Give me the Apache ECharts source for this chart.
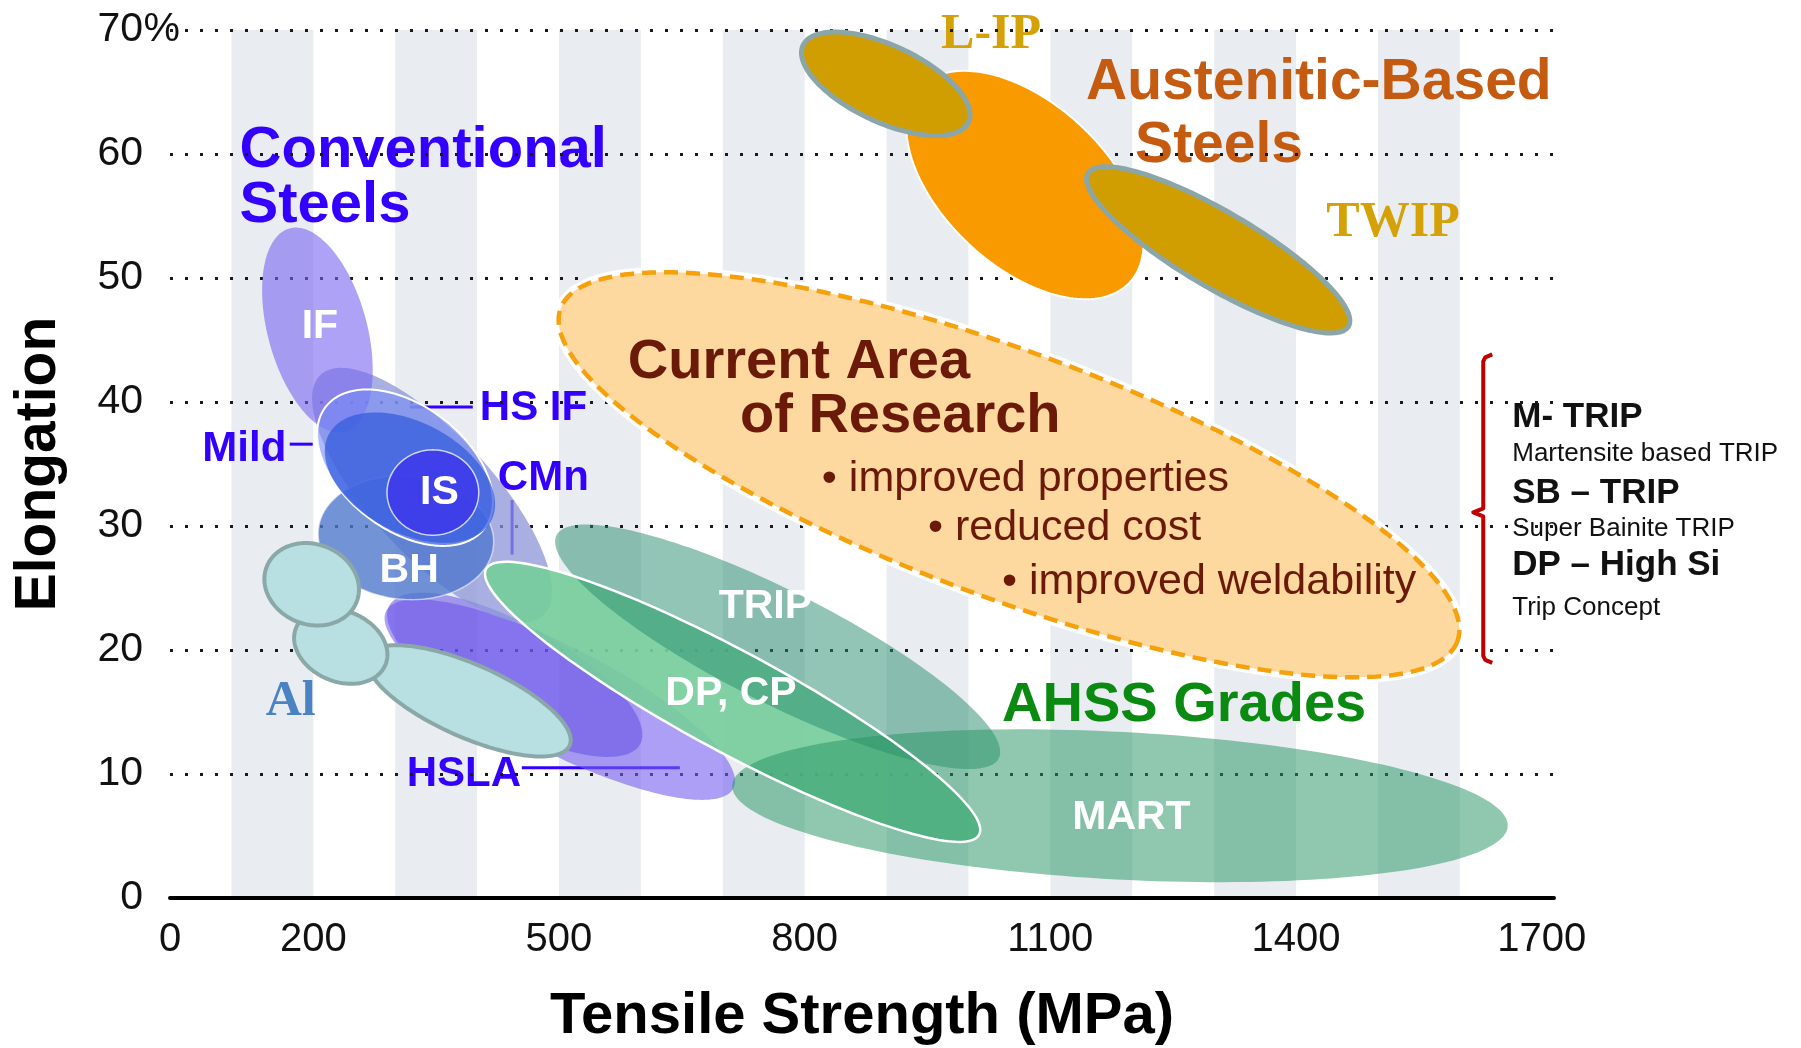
<!DOCTYPE html>
<html lang="en">
<head>
<meta charset="utf-8">
<title>Elongation vs Tensile Strength of Steel Grades</title>
<script src="https://cdn.jsdelivr.net/npm/echarts@6/dist/echarts.min.js"></script>
<style>
  html, body { margin: 0; padding: 0; background: #ffffff; }
  #chart { width: 1801px; height: 1048px; }
</style>
</head>
<body>
<div id="chart"></div>
<script>
// ---------- Axes ----------
// The strength axis is broken near the origin: its first tick is labelled 0.
const strengthTicks = [25, 200, 500, 800, 1100, 1400, 1700];
const strengthRange = [25, 1715];
const elongationRange = [0, 70];
// Shaded columns along the strength axis, [from, to] in MPa
const strengthBands = [[100, 200], [300, 400], [500, 600], [700, 800], [900, 1000], [1100, 1200], [1300, 1400], [1500, 1600]];

// ---------- Property regions ----------
// [grade, centre MPa, centre %, end of long axis MPa, end of long axis %, short/long axis ratio]
const conventionalRegions = [
  ['HSLA',      501,   16.0,  713,   8.85, 0.27],
  ['HSLA core', 446,   18.0,  599,  12.4,  0.35],
  ['CMn',       345,   32.5,  481,  22.8,  0.37],
  ['IF',        205,   45.8,  239,  37.6,  0.47],
  ['BH',        313,   29.05, 420,  28.4,  0.70],
  ['HS IF',     312,   34.7,  409,  29.8,  0.62],
  ['Mild',      318,   33.9,  417,  30.4,  0.60],
  ['IS',        346,   32.7,  402,  32.7,  0.93]
];
const aluminiumRegions = [
  ['Al 3', 390,   15.9, 513, 12.3, 0.33],
  ['Al 2', 233.5, 20.3, 288, 18.8, 0.73],
  ['Al 1', 198,   25.3, 253, 23.9, 0.83]
];
const austeniticRegions = [
  ['Austenitic', 1069, 57.5,  1197, 49.65, 0.57],
  ['L-IP',        899, 65.66, 1000, 62.56, 0.42],
  ['TWIP',       1305, 52.27, 1464, 46.1,  0.25]
];
const researchRegion = [
  ['Research', 1049.5, 34.13, 1597, 20.7, 0.257]
];
const ahssRegions = [
  ['DP, CP',  712, 15.82, 1013,  5.1,  0.179],
  ['TRIP',    767, 20.26, 1037, 11.27, 0.227],
  ['MART',   1185,  7.44, 1658.5, 5.8, 0.19]
];

// ---------- Texts: [text, MPa, %] ----------
const conventionalTitle = [['Conventional', 110, 60.26], ['Steels', 110, 55.8]];
const austeniticTitle = [['Austenitic-Based', 1143.6, 65.7], ['Steels', 1203.5, 60.65]];
const ahssTitle = [['AHSS Grades', 1041, 15.5]];
const austeniticGrades = [['L-IP', 966.5, 69.6], ['TWIP', 1437, 54.4]];
const conventionalCallouts = [['Mild', 64.5, 36.2], ['HS IF', 403.3, 39.5], ['CMn', 425.3, 33.8], ['HSLA', 314, 10.0]];
// leader lines [from MPa, from %, to MPa, to %]
const calloutLines = [[171.2, 36.6, 199.3, 36.6], [317.8, 39.6, 394.7, 39.6], [442.7, 32.1, 442.7, 27.7], [454.6, 10.5, 647.6, 10.5]];
const regionLabels = [['IF', 208, 46.1], ['IS', 354, 32.7], ['BH', 317, 26.4], ['TRIP', 752, 23.5], ['DP, CP', 710, 16.5], ['MART', 1199, 6.5]];
const aluminiumLabel = [['Al', 172.4, 15.8]];
const researchTitle = [['Current Area', 584, 43.2], ['of Research', 721, 38.8]];
const researchPoints = [['\u2022 improved properties', 821, 33.8], ['\u2022 reduced cost', 950.5, 29.8], ['\u2022 improved weldability', 1041, 25.5]];
const tripConcepts = [['M- TRIP', 1664, 38.75], ['SB \u2013 TRIP', 1664, 32.6], ['DP \u2013 High Si', 1664, 26.8]];
const tripConceptNotes = [['Martensite based TRIP', 1664, 35.8], ['Super Bainite TRIP', 1664, 29.8], ['Trip Concept', 1664, 23.4]];
// brace grouping the TRIP concepts: [MPa, low %, high %, tip %]
const tripBrace = [[1628.6, 19.2, 43.6, 31.1]];

// ---------- Styling ----------
const FONT = '"Liberation Sans", Arial, Helvetica, sans-serif';
const SERIF = '"Liberation Serif", "Times New Roman", serif';
const BLUE = '#3300ff';

const conventionalStyle = {
  'HSLA':      { fill: 'rgba(120,95,240,0.6)' },
  'HSLA core': { fill: 'rgba(100,80,230,0.55)' },
  'CMn':       { fill: 'rgba(140,150,215,0.75)' },
  'IF':        { fill: 'rgba(120,100,240,0.6)' },
  'BH':        { fill: 'rgba(80,120,205,0.8)', stroke: 'rgba(255,255,255,0.55)', lineWidth: 1.5 },
  'HS IF':     { fill: 'rgba(120,140,245,0.6)', stroke: '#ffffff', lineWidth: 2 },
  'Mild':      { fill: 'rgba(50,90,220,0.72)' },
  'IS':        { fill: 'rgba(60,50,235,0.75)', stroke: 'rgba(255,255,255,0.75)', lineWidth: 1.5 }
};
const aluminiumStyle = {
  'Al 1': { fill: '#b8dfe2', stroke: '#8ba8a8', lineWidth: 4 },
  'Al 2': { fill: '#b8dfe2', stroke: '#8ba8a8', lineWidth: 4 },
  'Al 3': { fill: '#b8dfe2', stroke: '#8ba8a8', lineWidth: 4 }
};
const austeniticStyle = {
  'Austenitic': { fill: '#f99b00', stroke: '#ffffff', lineWidth: 2 },
  'L-IP':       { fill: '#d19e02', stroke: '#8aa6a8', lineWidth: 5 },
  'TWIP':       { fill: '#d19e02', stroke: '#8aa6a8', lineWidth: 5 }
};
const researchStyle = {
  'Research': { fill: '#fdd89f', halo: '#ffffff', haloWidth: 11, stroke: '#f6a00b', lineWidth: 4.5, lineDash: [14, 8] }
};
const ahssFillStyle = {
  'DP, CP': { fill: 'rgba(118,205,156,0.92)' },
  'TRIP':   { fill: 'rgba(40,140,110,0.5)' },
  'MART':   { fill: 'rgba(40,150,100,0.52)' }
};
const ahssOutlineStyle = {
  'DP, CP': { stroke: '#ffffff', lineWidth: 2.5 }
};

// ---------- Rendering helpers ----------
function ellipsePoints(api, v) {
  const c = api.coord([v[0], v[1]]);
  const t = api.coord([v[2], v[3]]);
  const ux = t[0] - c[0], uy = t[1] - c[1];
  const a = Math.hypot(ux, uy), b = a * v[4];
  const nx = ux / a, ny = uy / a;
  const pts = [];
  const n = 180;
  for (let i = 0; i < n; i++) {
    const th = (i / n) * Math.PI * 2;
    const p = Math.cos(th) * a, q = Math.sin(th) * b;
    pts.push([c[0] + p * nx - q * ny, c[1] + p * ny + q * nx]);
  }
  return pts;
}

function regionSeries(name, regions, styles, z) {
  return {
    name, type: 'custom', coordinateSystem: 'cartesian2d', silent: true, clip: false, z,
    data: regions.map(r => ({ name: r[0], value: r.slice(1) })),
    renderItem(params, api) {
      const v = [0, 1, 2, 3, 4].map(i => api.value(i));
      const pts = ellipsePoints(api, v);
      const st = styles[regions[params.dataIndex][0]];
      if (st.halo) {
        return {
          type: 'group',
          children: [
            { type: 'polygon', shape: { points: pts }, style: { fill: 'none', stroke: st.halo, lineWidth: st.haloWidth } },
            { type: 'polygon', shape: { points: pts }, style: { fill: st.fill, stroke: 'none' } },
            { type: 'polygon', shape: { points: pts }, style: { fill: 'none', stroke: st.stroke, lineWidth: st.lineWidth, lineDash: st.lineDash } }
          ]
        };
      }
      return {
        type: 'polygon', shape: { points: pts },
        style: { fill: st.fill || 'none', stroke: st.stroke || 'none', lineWidth: st.lineWidth || 0 }
      };
    }
  };
}

function textSeries(name, items, style, z) {
  return {
    name, type: 'custom', coordinateSystem: 'cartesian2d', silent: true, clip: false, z,
    data: items.map(d => ({ name: d[0], value: [d[1], d[2]] })),
    renderItem(params, api) {
      const p = api.coord([api.value(0), api.value(1)]);
      return { type: 'text', x: p[0], y: p[1], style: Object.assign({ text: items[params.dataIndex][0] }, style) };
    }
  };
}

function textStyle(color, size, weight, family, align) {
  return { fill: color, fontSize: size, fontWeight: weight, fontFamily: family, align: align || 'left', verticalAlign: 'middle' };
}

const bandSeries = {
  name: 'bands', type: 'custom', coordinateSystem: 'cartesian2d', silent: true, clip: false, z: -3,
  data: strengthBands,
  renderItem(params, api) {
    const p0 = api.coord([api.value(0), elongationRange[1]]);
    const p1 = api.coord([api.value(1), elongationRange[0]]);
    return { type: 'rect', shape: { x: p0[0], y: p0[1], width: p1[0] - p0[0], height: p1[1] - p0[1] }, style: { fill: '#e9edf1' } };
  }
};

const calloutSeries = {
  name: 'callout lines', type: 'custom', coordinateSystem: 'cartesian2d', silent: true, clip: false, z: -1,
  data: calloutLines,
  renderItem(params, api) {
    const a = api.coord([api.value(0), api.value(1)]);
    const b = api.coord([api.value(2), api.value(3)]);
    return { type: 'polyline', shape: { points: [a, b] }, style: { stroke: BLUE, lineWidth: 3, fill: 'none' } };
  }
};

const braceSeries = {
  name: 'brace', type: 'custom', coordinateSystem: 'cartesian2d', silent: true, clip: false, z: -1,
  data: tripBrace,
  renderItem(params, api) {
    const x = api.value(0);
    const lo = api.coord([x, api.value(1)]);
    const hi = api.coord([x, api.value(2)]);
    const mid = api.coord([x, api.value(3)]);
    const hook = 9, tip = 10;
    const pts = [
      [hi[0] + hook, hi[1] - 3], [hi[0] + 2, hi[1]], [hi[0], hi[1] + 4],
      [mid[0], mid[1] - 4], [mid[0] - tip, mid[1]], [mid[0], mid[1] + 4],
      [lo[0], lo[1] - 4], [lo[0] + 2, lo[1]], [lo[0] + hook, lo[1] + 3]
    ];
    return { type: 'polyline', shape: { points: pts }, style: { stroke: '#c00000', lineWidth: 4, fill: 'none', lineJoin: 'round' } };
  }
};

// ---------- Chart ----------
const chart = echarts.init(document.getElementById('chart'), null, { renderer: 'canvas' });
chart.setOption({
  animation: false,
  backgroundColor: '#ffffff',
  grid: { left: 170, right: 247, top: 30, bottom: 150, containLabel: false, outerBoundsMode: 'none' },
  xAxis: {
    type: 'value', min: strengthRange[0], max: strengthRange[1],
    axisLine: { show: true, onZero: false, lineStyle: { color: '#000000', width: 4 } },
    axisTick: { show: false },
    splitLine: { show: false },
    axisLabel: {
      customValues: strengthTicks,
      formatter: v => (v === strengthTicks[0] ? '0' : String(v)),
      fontSize: 40, fontFamily: FONT, color: '#111111', margin: 22
    },
    name: 'Tensile Strength (MPa)', nameLocation: 'middle', nameGap: 90,
    nameTextStyle: { fontSize: 58, fontWeight: 'bold', fontFamily: FONT, color: '#000000' }
  },
  yAxis: {
    type: 'value', min: elongationRange[0], max: elongationRange[1], interval: 10,
    axisLine: { show: false }, axisTick: { show: false },
    splitLine: { show: true, lineStyle: { color: '#1a1a1a', width: 3, type: [3, 12] } },
    axisLabel: {
      margin: -10,
      formatter: v => (v === elongationRange[1] ? '{n|' + v + '}{p|%}' : '{n|' + v + '}{p|\u00a0}'),
      rich: {
        n: { fontSize: 41, fontFamily: FONT, color: '#111111' },
        p: { fontSize: 41, fontFamily: FONT, color: '#111111', width: 37 }
      }
    },
    name: 'Elongation', nameLocation: 'middle', nameGap: 102, nameRotate: 90,
    nameTextStyle: { fontSize: 57, fontWeight: 'bold', fontFamily: FONT, color: '#000000' }
  },
  series: [
    bandSeries,
    textSeries('conventional title', conventionalTitle, textStyle(BLUE, 58, 'bold', FONT), -1),
    textSeries('austenitic title', austeniticTitle, textStyle('#c55a11', 57, 'bold', FONT), -1),
    textSeries('ahss title', ahssTitle, textStyle('#0b8a12', 56, 'bold', FONT), -1),
    textSeries('austenitic grades', austeniticGrades, textStyle('#d4a106', 50, 'bold', SERIF), -1),
    textSeries('callouts', conventionalCallouts, textStyle(BLUE, 42, 'bold', FONT), -1),
    calloutSeries,
    textSeries('aluminium', aluminiumLabel, textStyle('#4a82c4', 50, 'bold', SERIF, 'center'), -1),
    textSeries('trip concepts', tripConcepts, textStyle('#111111', 35, 'bold', FONT), -1),
    textSeries('trip concept notes', tripConceptNotes, textStyle('#111111', 26, 'normal', FONT), -1),
    braceSeries,
    regionSeries('research', researchRegion, researchStyle, 2),
    regionSeries('austenitic', austeniticRegions, austeniticStyle, 2),
    regionSeries('conventional', conventionalRegions, conventionalStyle, 3),
    regionSeries('aluminium regions', aluminiumRegions, aluminiumStyle, 4),
    regionSeries('ahss', ahssRegions, ahssFillStyle, 5),
    regionSeries('ahss outline', ahssRegions.slice(0, 1), ahssOutlineStyle, 6),
    textSeries('region labels', regionLabels, textStyle('#ffffff', 41, 'bold', FONT, 'center'), 8),
    textSeries('research title', researchTitle, textStyle('#6b1a0a', 56, 'bold', FONT), 8),
    textSeries('research points', researchPoints, textStyle('#6b1a0a', 43, 'normal', FONT), 8)
  ]
});
</script>
</body>
</html>
